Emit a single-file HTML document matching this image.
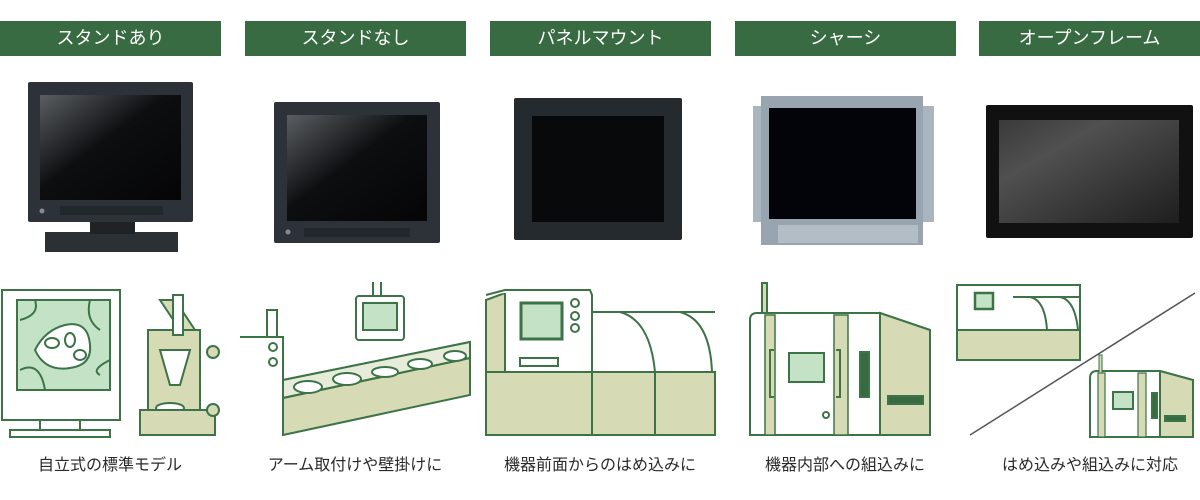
<!DOCTYPE html><html><head><meta charset="utf-8"><style>
body{margin:0;width:1200px;height:500px;background:#fff;overflow:hidden;position:relative;font-family:"Liberation Sans","Noto Sans CJK JP",sans-serif}
.h{position:absolute;top:21px;height:35px;width:221px;background:#386b41;color:#fff;font-size:18px;line-height:35px;text-align:center}
.c{position:absolute;top:454px;width:240px;font-size:16px;color:#2a2a2a;text-align:center;line-height:24px}
svg{position:absolute;left:0;top:0}
</style></head><body>
<svg width="1200" height="500" viewBox="0 0 1200 500">
<defs>
<linearGradient id="sc" x1="0" y1="0" x2="1" y2="1"><stop offset="0" stop-color="#5a5e62"/><stop offset=".45" stop-color="#0d0e10"/><stop offset="1" stop-color="#050506"/></linearGradient>
<linearGradient id="sc5" x1="0" y1="0" x2="1" y2="1"><stop offset="0" stop-color="#3a3a3a"/><stop offset=".3" stop-color="#505050"/><stop offset="1" stop-color="#1e1e1e"/></linearGradient>
</defs>
<rect x="45" y="232" width="133" height="20" fill="#2b3034"/><rect x="90" y="222" width="45" height="12" fill="#1f2326"/>
<rect x="28" y="82" width="165" height="140" rx="2" fill="#2c3237"/>
<rect x="40" y="95" width="141" height="105" fill="url(#sc)"/>
<rect x="60" y="206" width="103" height="9" fill="#22272b"/><circle cx="42" cy="211" r="2.5" fill="#889"/>
<rect x="274" y="102" width="166" height="141" rx="2" fill="#2c3237"/>
<rect x="287" y="115" width="140" height="106" fill="url(#sc)"/>
<rect x="304" y="228" width="106" height="9" fill="#22272b"/><circle cx="288" cy="232" r="2.5" fill="#889"/>
<rect x="514" y="98" width="168" height="142" rx="2" fill="#252a2e"/>
<rect x="532" y="116" width="132" height="106" fill="#08090a"/>
<rect x="753" y="106" width="181" height="116" fill="#a9b5bf"/>
<rect x="761" y="96" width="162" height="149" fill="#98a5b0"/>
<rect x="778" y="225" width="140" height="18" fill="#b3bdc5"/>
<rect x="769" y="108" width="147" height="111" fill="#03040a"/>
<rect x="986" y="105" width="207" height="133" rx="2" fill="#111"/>
<rect x="999" y="120" width="180" height="103" fill="url(#sc5)"/>

<g stroke="#3c7347" stroke-width="2" fill="none">
<path d="M2 290 H120 V420 H2 Z" fill="#fff"/>
<rect x="17" y="300" width="93" height="90" fill="#c4e2c6"/>
<path d="M35 350 Q45 330 65 325 Q88 320 90 345 Q92 365 70 368 Q45 372 35 350Z" fill="#fff"/>
<ellipse cx="52" cy="343" rx="7" ry="5"/><ellipse cx="70" cy="340" rx="5" ry="7"/><ellipse cx="80" cy="355" rx="6" ry="5"/>
<path d="M20 320 Q40 315 35 300 M90 300 Q85 320 100 330 M20 370 Q40 360 45 390 M100 375 Q90 370 110 360"/>
<path d="M40 420 V430 M80 420 V430 M10 430 H110 V437 H10 Z" fill="#fff"/>
<path d="M148 330 H200 V420 H148 Z" fill="#d6dbb5"/>
<path d="M160 300 L180 330 H195 L175 300Z" fill="#d6dbb5"/>
<rect x="173" y="295" width="10" height="40" fill="#fff"/>
<path d="M160 350 H190 L180 385 H170 Z" fill="#fff"/>
<ellipse cx="170" cy="408" rx="14" ry="5" fill="#fff"/>
<rect x="140" y="410" width="75" height="25" fill="#d6dbb5"/>
<circle cx="213" cy="352" r="6" fill="#d6dbb5"/><circle cx="213" cy="410" r="6" fill="#d6dbb5"/>
<path d="M240 337 H283 V435"/><rect x="267" y="310" width="10" height="27" fill="#fff"/>
<circle cx="273" cy="347" r="4"/><circle cx="273" cy="362" r="4"/>
<path d="M373 282 V296 M381 282 V296"/>
<rect x="356" y="296" width="48" height="44" rx="3" fill="#fff"/><rect x="363" y="303" width="34" height="27" fill="#c4e2c6"/>
<path d="M283 380 L470 342 V395 L283 435 Z" fill="#d6dbb5"/>
<path d="M283 380 L470 342 V358 L283 398 Z" fill="#e6ebda"/>
<path d="M283 398 L470 358"/>
<ellipse cx="308" cy="387" rx="14" ry="6" fill="#fff"/><ellipse cx="347" cy="379" rx="14" ry="6" fill="#fff"/><ellipse cx="385" cy="372" rx="13" ry="5" fill="#fff"/><ellipse cx="420" cy="364" rx="12" ry="5" fill="#fff"/><ellipse cx="455" cy="356" rx="11" ry="5" fill="#fff"/>
<path d="M486 300 L505 293 V435 H486 Z" fill="#d6dbb5"/>
<path d="M486 295 L505 290 H590 L592 295 V372 H505 V293" fill="#fff"/>
<rect x="521" y="303" width="41" height="36" stroke-width="3" fill="#c4e2c6"/>
<circle cx="575" cy="303" r="4"/><circle cx="575" cy="316" r="4"/><circle cx="575" cy="328" r="4"/>
<rect x="520" y="358" width="38" height="8"/>
<path d="M592 312 H715 M592 372 H715"/>
<path d="M620 312 Q650 320 655 372 M680 312 Q710 320 712 372"/>
<rect x="486" y="372" width="229" height="63" fill="#d6dbb5"/>
<path d="M592 372 V435 M655 372 V435"/>
<rect x="762" y="283" width="5" height="30" fill="#d6dbb5"/>
<path d="M750 320 Q750 313 757 313 H880 L930 330 V435 H750 Z" fill="#fff"/>
<rect x="765" y="315" width="10" height="120" fill="#d6dbb5" stroke-width="1.5"/>
<rect x="834" y="315" width="14" height="120" fill="#d6dbb5" stroke-width="1.5"/>
<path d="M880 313 L930 330 V435 H880 Z" fill="#d6dbb5"/>
<rect x="789" y="353" width="35" height="29" fill="#c4e2c6"/>
<path d="M774 350 H770 V397 H774 M836 350 H840 V397 H836"/>
<rect x="860" y="352" width="9" height="45" fill="#386b41"/>
<rect x="888" y="396" width="35" height="8" fill="#386b41"/>
<circle cx="826" cy="415" r="3"/>
<path d="M957 285 H1080 V360 H957 Z" fill="#fff"/>
<rect x="957" y="330" width="123" height="30" fill="#d6dbb5"/>
<rect x="975" y="293" width="18" height="16" fill="#c4e2c6" stroke-width="2.5"/>
<path d="M1013 297 H1080 M1030 297 Q1045 300 1047 330 M1060 297 Q1075 300 1078 330"/>
<path d="M970 435 L1195 293" stroke="#555" stroke-width="1.5"/>
<path d="M1090 378 Q1090 371 1097 371 H1160 L1193 380 V437 H1090 Z" fill="#fff"/>
<rect x="1098" y="373" width="7" height="64" fill="#d6dbb5" stroke-width="1.2"/>
<rect x="1138" y="373" width="8" height="64" fill="#d6dbb5" stroke-width="1.2"/>
<path d="M1160 371 L1193 380 V437 H1160 Z" fill="#d6dbb5"/>
<rect x="1113" y="392" width="20" height="17" fill="#c4e2c6"/>
<rect x="1152" y="393" width="5" height="25" fill="#386b41"/>
<rect x="1165" y="416" width="20" height="5" fill="#386b41"/>
<rect x="1099" y="355" width="3" height="18" fill="#d6dbb5" stroke-width="1"/>
</g>
</svg>
<div class="h" style="left:0">スタンドあり</div>
<div class="h" style="left:245px">スタンドなし</div>
<div class="h" style="left:490px">パネルマウント</div>
<div class="h" style="left:735px">シャーシ</div>
<div class="h" style="left:979px">オープンフレーム</div>
<div class="c" style="left:-10px">自立式の標準モデル</div>
<div class="c" style="left:235px">アーム取付けや壁掛けに</div>
<div class="c" style="left:480px">機器前面からのはめ込みに</div>
<div class="c" style="left:725px">機器内部への組込みに</div>
<div class="c" style="left:970px">はめ込みや組込みに対応</div>
</body></html>
